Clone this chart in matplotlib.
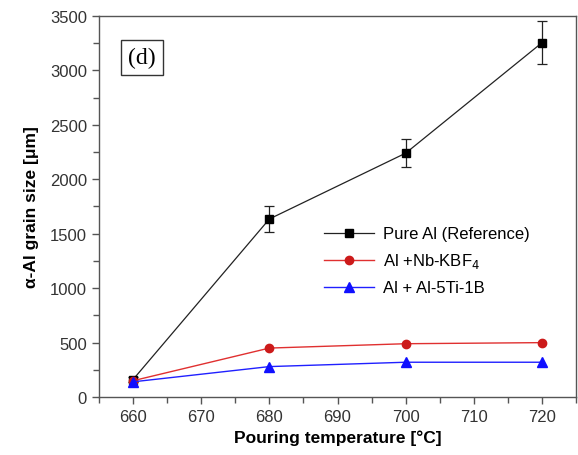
import matplotlib
matplotlib.use("Agg")
import matplotlib.pyplot as plt
import matplotlib.ticker as ticker
from matplotlib.lines import Line2D

temps = [660, 680, 700, 720]
pure_al = [160, 1635, 2240, 3255]
pure_al_err = [25, 120, 125, 195]
al_nb = [150, 450, 490, 500]
al_tib = [140, 280, 320, 320]

plt.rcParams.update({
    "font.family": ["Liberation Sans", "DejaVu Sans"],
    "font.size": 11,
})

fig = plt.figure(figsize=(5.78, 4.56), dpi=100)
ax = fig.add_axes([0.171, 0.127, 0.826, 0.836])

pure_style = dict(color="#222222", lw=0.9, marker="s", ms=6, mfc="black", mec="black")
nb_style = dict(color="#e03030", lw=1.0, marker="o", ms=6, mfc="#cc1a1a", mec="#cc1a1a")
tib_style = dict(color="#2020ff", lw=1.0, marker="^", ms=7, mfc="#1010ff", mec="#1010ff")

ax.errorbar(temps, pure_al, yerr=pure_al_err, capsize=3.5, elinewidth=0.9,
            capthick=0.9, ecolor="#222222", zorder=3, **pure_style)
ax.plot(temps, al_nb, zorder=4, **nb_style)
ax.plot(temps, al_tib, zorder=5, **tib_style)

ax.set_xlim(655, 725)
ax.set_ylim(0, 3500)
ax.xaxis.set_major_locator(ticker.MultipleLocator(10))
ax.xaxis.set_minor_locator(ticker.MultipleLocator(5))
ax.yaxis.set_major_locator(ticker.MultipleLocator(500))
ax.yaxis.set_minor_locator(ticker.MultipleLocator(250))
ax.tick_params(which="both", direction="out", colors="#555555",
               labelcolor="#333333", labelsize=12)
ax.tick_params(which="major", length=5, width=1.0)
ax.tick_params(which="minor", length=4, width=1.0)
for s in ax.spines.values():
    s.set_color("#555555")
    s.set_linewidth(1.0)

ax.set_xlabel("Pouring temperature [°C]", fontsize=12.5, fontweight="bold", labelpad=4)
ax.set_ylabel("α-Al grain size [μm]", fontsize=12.5, fontweight="bold", labelpad=8)

ax.text(0.09, 0.89, "(d)", transform=ax.transAxes, fontsize=17,
        family=["Liberation Serif", "DejaVu Serif"], va="center", ha="center",
        bbox=dict(boxstyle="square,pad=0.3", fc="white", ec="#333333", lw=1.0))

handles = [Line2D([], [], **pure_style), Line2D([], [], **nb_style),
           Line2D([], [], **tib_style)]
labels = ["Pure Al (Reference)", "Al +Nb-KBF$_4$", "Al + Al-5Ti-1B"]
ax.legend(handles, labels, loc="upper left", bbox_to_anchor=(0.458, 0.465),
          frameon=False, fontsize=12, handlelength=3.0, borderaxespad=0,
          labelspacing=0.6, handletextpad=0.55)

fig.savefig("out.png", dpi=100)
